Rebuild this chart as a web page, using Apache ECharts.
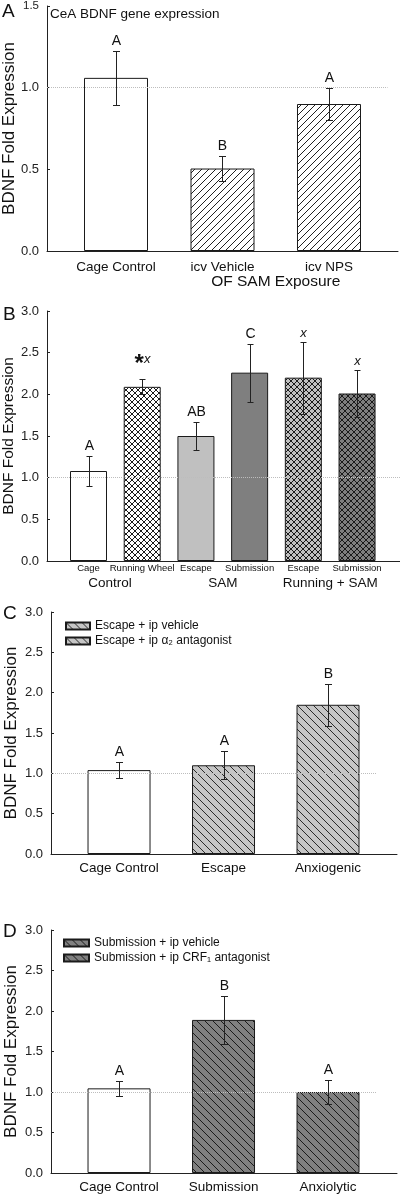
<!DOCTYPE html>
<html><head><meta charset="utf-8">
<script src="https://cdn.jsdelivr.net/npm/echarts@6/dist/echarts.min.js"></script>
<style>html,body{margin:0;padding:0;background:#fff}#c{width:400px;height:1194px}</style>
</head><body><div id="c"></div>
<script>
// ---------- DATA ----------
const A_categories = ['Cage Control', 'icv Vehicle', 'icv NPS'];
const A_group = ['OF SAM Exposure'];
const A_means = [1.06, 0.505, 0.90];
const A_sem = [0.165, 0.075, 0.095];
const A_letters = ['A', 'B', 'A'];
const A_title = 'CeA BDNF gene expression';

const B_categories = ['Cage', 'Running Wheel', 'Escape', 'Submission', 'Escape', 'Submission'];
const B_groups = ['Control', 'SAM', 'Running + SAM'];
const B_means = [1.08, 2.09, 1.50, 2.26, 2.20, 2.01];
const B_sem = [0.175, 0.09, 0.17, 0.35, 0.43, 0.28];
const B_letters = ['A', '*x', 'AB', 'C', 'x', 'x'];

const C_categories = ['Cage Control', 'Escape', 'Anxiogenic'];
const C_means = [1.04, 1.10, 1.85];
const C_sem = [0.095, 0.175, 0.26];
const C_letters = ['A', 'A', 'B'];
const C_legend = ['Escape + ip vehicle', 'Escape + ip α₂ antagonist'];

const D_categories = ['Cage Control', 'Submission', 'Anxiolytic'];
const D_means = [1.045, 1.89, 1.00];
const D_sem = [0.095, 0.30, 0.15];
const D_letters = ['A', 'B', 'A'];
const D_legend = ['Submission + ip vehicle', 'Submission + ip CRF₁ antagonist'];

const yTitle = 'BDNF Fold Expression';
const panelLetters = ['A', 'B', 'C', 'D'];

// ---------- STYLE HELPERS ----------
const FONT = "'Liberation Sans', Arial, sans-serif";
function pattern(bg, size, dirs, lineColor, lw) {
  const c = document.createElement('canvas');
  c.width = size; c.height = size;
  const g = c.getContext('2d');
  g.fillStyle = bg; g.fillRect(0, 0, size, size);
  g.strokeStyle = lineColor; g.lineWidth = lw;
  for (const d of dirs) {
    for (const k of [-size, 0, size]) {
      g.beginPath();
      if (d === '/') { g.moveTo(k, size); g.lineTo(k + size, 0); }
      else { g.moveTo(k, 0); g.lineTo(k + size, size); }
      g.stroke();
    }
  }
  return { image: c, repeat: 'repeat' };
}
const fillWhite = '#ffffff';
const hatchA = pattern('#ffffff', 7, ['/'], '#222', 1);
const cross = (bg) => pattern(bg, 6, ['/', '\\'], '#1a1a1a', 1);
const hatchC = pattern('#c6c6c6', 8, ['\\'], '#2a2a2a', 1);
const hatchD = pattern('#808080', 8, ['\\'], '#1a1a1a', 1);

const A_fills = [fillWhite, hatchA, hatchA];
const B_fills = [fillWhite, cross('#ffffff'), '#c0c0c0', '#7f7f7f', cross('#c0c0c0'), cross('#7f7f7f')];

// axis ranges in category-position units (categories at 1..n)
const A_range = [0.352, 3.648], B_range = [0.227, 6.80], CD_range = [0.349, 3.66];
const A_refEnd = 3.55, B_refEnd = 6.80, CD_refEnd = 3.46;

function yAxis(gridIndex, max, nameSize, nameGap, smallTop) {
  return {
    type: 'value', gridIndex, min: 0, max, interval: 0.5,
    name: yTitle, nameLocation: 'middle', nameGap, nameMoveOverlap: false,
    nameTextStyle: { fontFamily: FONT, fontSize: nameSize, color: '#111' },
    axisLine: { show: true, lineStyle: { color: '#222', width: 1 } },
    axisTick: { show: true, inside: true, length: 3, lineStyle: { color: '#222' } },
    axisLabel: {
      fontFamily: FONT, fontSize: 13, color: '#222', margin: 8,
      formatter: v => (smallTop && Math.abs(v - max) < 1e-9) ? '{s|' + v.toFixed(1) + '}' : v.toFixed(1),
      rich: { s: { fontFamily: FONT, fontSize: 11.5, color: '#222' } }
    },
    splitLine: { show: false }
  };
}
function xAxis(gridIndex, range, values, labels, o) {
  return {
    type: 'value', gridIndex, position: 'bottom', min: range[0], max: range[1], offset: o.offset || 0,
    axisLine: { show: !!o.line, onZero: false, lineStyle: { color: '#222', width: 1 } },
    axisTick: { show: false }, splitLine: { show: false },
    axisLabel: {
      customValues: values, margin: o.margin, fontFamily: FONT, fontSize: o.size, color: '#111',
      formatter: v => { const i = values.findIndex(t => Math.abs(t - v) < 1e-6); return i >= 0 ? labels[i] : ''; }
    }
  };
}
const pos = arr => arr.map((_, i) => i + 1);

function errSeries(xi, yi, means, sem, letters, capHalf, fontSize) {
  return {
    type: 'custom', xAxisIndex: xi, yAxisIndex: yi, z: 5, silent: true,
    data: means.map((m, i) => [i + 1, m, sem[i]]),
    renderItem: (params, api) => {
      const x = api.value(0), m = api.value(1), e = api.value(2);
      const t = api.coord([x, m + e]), b = api.coord([x, m - e]);
      const cx = Math.round(t[0]) + 0.5, ty = Math.round(t[1]) + 0.5, by = Math.round(b[1]) + 0.5;
      const st = { stroke: '#222', lineWidth: 1 };
      const lab = letters[params.dataIndex];
      return {
        type: 'group', children: [
          { type: 'line', shape: { x1: cx, y1: ty, x2: cx, y2: by }, style: st },
          { type: 'line', shape: { x1: cx - capHalf, y1: ty, x2: cx + capHalf, y2: ty }, style: st },
          { type: 'line', shape: { x1: cx - capHalf, y1: by, x2: cx + capHalf, y2: by }, style: st },
          {
            type: 'text', style: {
              text: lab === '*x' ? '{s|*}{i|x}' : (lab === 'x' ? '{i|x}' : lab),
              x: cx, y: ty - 3, align: 'center', verticalAlign: 'bottom',
              fontFamily: FONT, fontSize, fill: '#111',
              rich: {
                s: { fontFamily: FONT, fontSize: 24, fontWeight: 'bold', fill: '#111', padding: [10, 0, 0, 0] },
                i: { fontFamily: FONT, fontSize: 13, fontStyle: 'italic', fill: '#111' }
              }
            }
          }
        ]
      };
    }
  };
}
function refLine(xi, yi, x0, x1) {
  return {
    type: 'line', xAxisIndex: xi, yAxisIndex: yi, data: [], z: 1, silent: true,
    markLine: {
      silent: true, symbol: 'none', animation: false, label: { show: false },
      lineStyle: { color: '#bdbdbd', type: 'dotted', width: 1 },
      data: [[{ coord: [x0, 1] }, { coord: [x1, 1] }]]
    }
  };
}
const barBase = { type: 'bar', z: 2, barGap: '-100%', itemStyle: { borderColor: '#1a1a1a', borderWidth: 1 } };
const gridBase = { outerBoundsMode: 'none', containLabel: false };

const option = {
  animation: false,
  backgroundColor: '#fff',
  textStyle: { fontFamily: FONT },
  grid: [
    Object.assign({ left: 47, right: 2, top: 6, bottom: 1194 - 251 }, gridBase),
    Object.assign({ left: 47, right: 0, top: 311, bottom: 1194 - 561 }, gridBase),
    Object.assign({ left: 51, right: 3, top: 612, bottom: 1194 - 854 }, gridBase),
    Object.assign({ left: 51, right: 3, top: 930, bottom: 1194 - 1173 }, gridBase)
  ],
  xAxis: [
    xAxis(0, A_range, pos(A_categories), A_categories, { line: true, margin: 9, size: 13.5 }),
    xAxis(0, A_range, [2.5], A_group, { line: false, offset: 21, margin: 2, size: 15.5 }),
    xAxis(1, B_range, pos(B_categories), B_categories, { line: true, margin: 2, size: 9.5 }),
    xAxis(1, B_range, [1.4, 3.5, 5.5], B_groups, { line: false, offset: 14, margin: 1, size: 13.5 }),
    xAxis(2, CD_range, pos(C_categories), C_categories, { line: true, margin: 7, size: 13.5 }),
    xAxis(3, CD_range, pos(D_categories), D_categories, { line: true, margin: 7, size: 13.5 })
  ],
  yAxis: [
    yAxis(0, 1.5, 17, 29, true),
    yAxis(1, 3.0, 15.5, 30, false),
    yAxis(2, 3.0, 17, 31, false),
    yAxis(3, 3.0, 17, 31, false)
  ],
  legend: [
    {
      data: C_legend, left: 60, top: 614, orient: 'vertical', icon: 'rect', itemWidth: 24, itemHeight: 7,
      itemGap: 1, selectedMode: false, textStyle: { fontFamily: FONT, fontSize: 12, lineHeight: 14, color: '#111' }
    },
    {
      data: D_legend, left: 58, top: 931, orient: 'vertical', icon: 'rect', itemWidth: 25, itemHeight: 7,
      itemGap: 1, selectedMode: false, textStyle: { fontFamily: FONT, fontSize: 12, lineHeight: 14, color: '#111' }
    }
  ],
  graphic: [
    { type: 'text', left: 2, top: 2, style: { text: panelLetters[0], font: '19px ' + FONT, fill: '#111' } },
    { type: 'text', left: 50, top: 7, style: { text: A_title, font: '13.5px ' + FONT, fill: '#111' } },
    { type: 'text', left: 3, top: 305, style: { text: panelLetters[1], font: '19px ' + FONT, fill: '#111' } },
    { type: 'text', left: 3, top: 604, style: { text: panelLetters[2], font: '19px ' + FONT, fill: '#111' } },
    { type: 'text', left: 3, top: 922, style: { text: panelLetters[3], font: '19px ' + FONT, fill: '#111' } }
  ],
  series: [
    refLine(0, 0, A_range[0], A_refEnd),
    Object.assign({}, barBase, { name: 'A', xAxisIndex: 0, yAxisIndex: 0, barWidth: 64,
      data: A_means.map((m, i) => ({ value: [i + 1, m], itemStyle: { color: A_fills[i] } })) }),
    errSeries(0, 0, A_means, A_sem, A_letters, 3.5, 14),

    refLine(2, 1, B_range[0], B_refEnd),
    Object.assign({}, barBase, { name: 'B', xAxisIndex: 2, yAxisIndex: 1, barWidth: 37,
      data: B_means.map((m, i) => ({ value: [i + 1, m], itemStyle: { color: B_fills[i] } })) }),
    errSeries(2, 1, B_means, B_sem, B_letters, 3, 14),

    refLine(4, 2, CD_range[0], CD_refEnd),
    Object.assign({}, barBase, { name: C_categories[0], xAxisIndex: 4, yAxisIndex: 2, barWidth: 63,
      itemStyle: { color: fillWhite, borderColor: '#1a1a1a', borderWidth: 1 }, data: [[1, C_means[0]]] }),
    Object.assign({}, barBase, { name: C_legend[0], xAxisIndex: 4, yAxisIndex: 2, barWidth: 63,
      itemStyle: { color: hatchC, borderColor: '#1a1a1a', borderWidth: 1 }, data: [[2, C_means[1]]] }),
    Object.assign({}, barBase, { name: C_legend[1], xAxisIndex: 4, yAxisIndex: 2, barWidth: 63,
      itemStyle: { color: hatchC, borderColor: '#1a1a1a', borderWidth: 1 }, data: [[3, C_means[2]]] }),
    errSeries(4, 2, C_means, C_sem, C_letters, 3.5, 14),

    refLine(5, 3, CD_range[0], CD_refEnd),
    Object.assign({}, barBase, { name: D_categories[0] + ' ', xAxisIndex: 5, yAxisIndex: 3, barWidth: 63,
      itemStyle: { color: fillWhite, borderColor: '#1a1a1a', borderWidth: 1 }, data: [[1, D_means[0]]] }),
    Object.assign({}, barBase, { name: D_legend[0], xAxisIndex: 5, yAxisIndex: 3, barWidth: 63,
      itemStyle: { color: hatchD, borderColor: '#1a1a1a', borderWidth: 1 }, data: [[2, D_means[1]]] }),
    Object.assign({}, barBase, { name: D_legend[1], xAxisIndex: 5, yAxisIndex: 3, barWidth: 63,
      itemStyle: { color: hatchD, borderColor: '#1a1a1a', borderWidth: 1 }, data: [[3, D_means[2]]] }),
    errSeries(5, 3, D_means, D_sem, D_letters, 3.5, 14)
  ]
};
const chart = echarts.init(document.getElementById('c'), null, { renderer: 'canvas' });
chart.setOption(option);
</script></body></html>
